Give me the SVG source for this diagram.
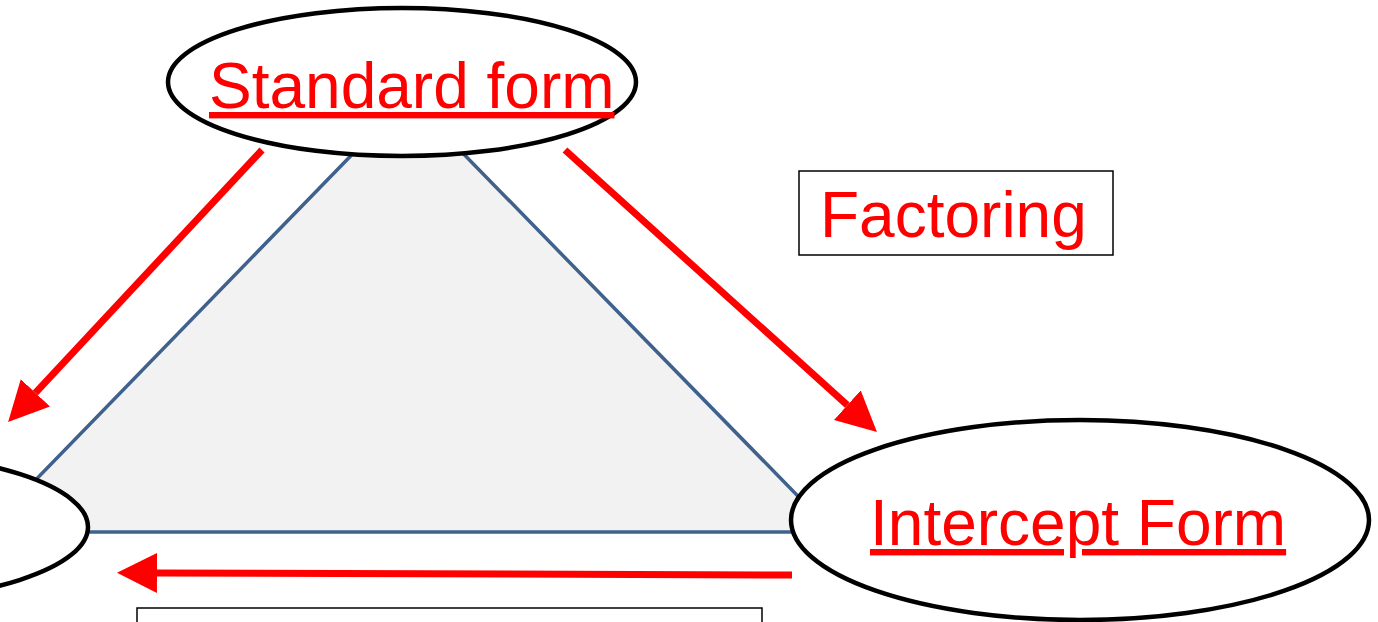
<svg xmlns="http://www.w3.org/2000/svg" width="1378" height="622" viewBox="0 0 1378 622">
  <defs>
    <marker id="head" viewBox="0 0 40 40" refX="0" refY="20" markerWidth="40" markerHeight="40" markerUnits="userSpaceOnUse" orient="auto">
      <path d="M0,0 L40,20 L0,40 Z" fill="#ff0000"/>
    </marker>
    <style>
      .node { fill: #ffffff; stroke: #000000; stroke-width: 4.5; }
      .label { font-family: "Liberation Sans", Arial, sans-serif; font-size: 64px; fill: #ff0000; }
      .link { fill: none; stroke: #ff0000; stroke-width: 7; marker-end: url(#head); }
      .box { fill: #ffffff; stroke: #000000; stroke-width: 1.5; }
    </style>
  </defs>

  <rect width="1378" height="622" fill="#ffffff"/>

  <!-- background triangle joining the three forms -->
  <g id="triangle">
    <polygon points="408,97 833,532 -15,532" fill="#f2f2f2" stroke="#3f618c" stroke-width="3.5" stroke-linejoin="miter"/>
  </g>

  <!-- conversion arrows -->
  <g id="connectors">
    <line class="link" x1="262" y1="150" x2="35.4" y2="392.8"/>
    <line class="link" x1="565" y1="150" x2="847.3" y2="405.2"/>
    <line class="link" x1="792" y1="575" x2="157" y2="573"/>
  </g>

  <g id="node-standard">
    <ellipse class="node" cx="402" cy="82" rx="234" ry="74"/>
    <text class="label" x="209" y="108" text-decoration="underline">Standard form</text>
  </g>

  <g id="node-vertex">
    <ellipse class="node" cx="-146" cy="527" rx="234" ry="75"/>
  </g>

  <g id="node-intercept">
    <ellipse class="node" cx="1080" cy="520" rx="289" ry="100"/>
    <text class="label" x="870" y="545" text-decoration="underline">Intercept Form</text>
  </g>

  <g id="label-factoring">
    <rect class="box" x="799" y="171" width="314" height="84"/>
    <text class="label" x="820" y="237">Factoring</text>
  </g>

  <g id="label-bottom">
    <rect class="box" x="137" y="608" width="625" height="40"/>
  </g>
</svg>
